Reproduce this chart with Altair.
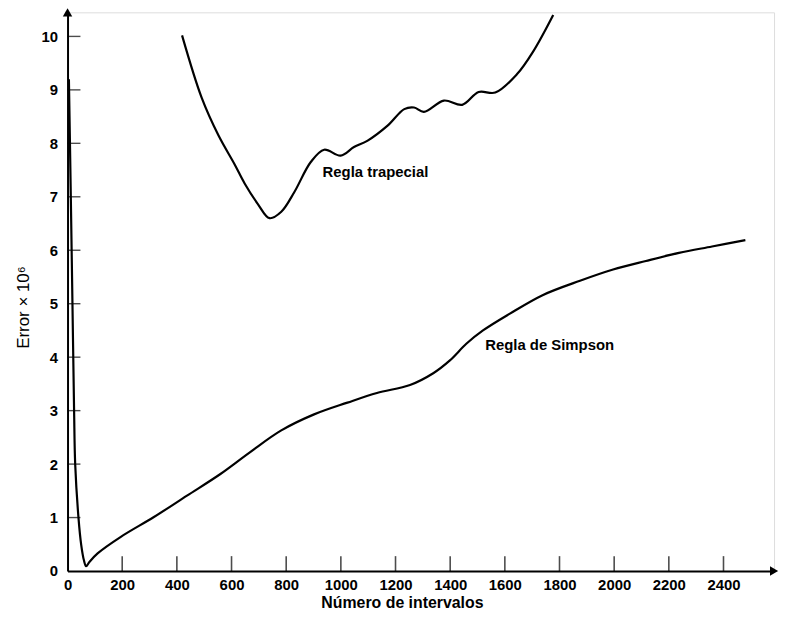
import altair as alt
import pandas as pd

# Trapezoidal rule curve (Número de intervalos, Error x 10^6)
trap_x = [419, 491, 552, 612, 648, 697, 739, 782, 830, 890, 939, 999, 1048, 1098,
          1171, 1232, 1268, 1304, 1377, 1444, 1504, 1565, 1644, 1704, 1777]
trap_y = [10.02, 8.85, 8.15, 7.6, 7.25, 6.86, 6.6, 6.72, 7.09, 7.65, 7.88, 7.77,
          7.93, 8.05, 8.33, 8.64, 8.67, 8.59, 8.8, 8.72, 8.96, 8.95, 9.29, 9.72, 10.4]

# Simpson rule curve
simp_x = [5, 12, 18, 24, 28, 40, 50, 60, 68, 80, 110, 195, 316, 437, 558, 667,
          782, 902, 1024, 1132, 1253, 1338, 1399, 1459, 1520, 1617, 1738, 1875,
          1996, 2116, 2237, 2358, 2480]
simp_y = [9.2, 7.0, 5.0, 3.0, 2.0, 1.0, 0.49, 0.2, 0.09, 0.17, 0.33, 0.64, 1.01,
          1.41, 1.81, 2.22, 2.63, 2.93, 3.15, 3.33, 3.48, 3.70, 3.94, 4.25, 4.50,
          4.81, 5.16, 5.43, 5.64, 5.80, 5.95, 6.07, 6.19]

x_ticks = [0, 200, 400, 600, 800, 1000, 1200, 1400, 1600, 1800, 2000, 2200, 2400]
y_ticks = [0, 1, 2, 3, 4, 5, 6, 7, 8, 9, 10]

labels = ["Regla trapecial", "Regla de Simpson"]
label_x = [933, 1528]
label_y = [7.46, 4.22]

x_max = 2585
y_max = 10.45

df = pd.concat([
    pd.DataFrame({"x": trap_x, "y": trap_y, "serie": "Regla trapecial"}),
    pd.DataFrame({"x": simp_x, "y": simp_y, "serie": "Regla de Simpson"}),
])

FONT = "Liberation Sans"
xs = alt.Scale(domain=[0, x_max], nice=False, zero=False)
ys = alt.Scale(domain=[0, y_max], nice=False)

lines = alt.Chart(df).mark_line(color="black", strokeWidth=2.2, interpolate="catmull-rom").encode(
    x=alt.X("x:Q", scale=xs, axis=alt.Axis(
        values=x_ticks, format="d", ticks=False, grid=False, domainColor="black", domainWidth=2,
        labelFont=FONT, labelFontSize=15, labelColor="black", labelPadding=7,
        labelFontWeight="bold", labelFlush=False,
        title="Número de intervalos", titleFont=FONT, titleFontSize=16,
        titleFontWeight="bold", titleColor="black", titleX=337, titleY=24,
        titleBaseline="top")),
    y=alt.Y("y:Q", scale=ys, axis=alt.Axis(
        values=y_ticks, format="d", ticks=False, grid=False, domainColor="black", domainWidth=2,
        labelFont=FONT, labelFontSize=15, labelColor="black", labelPadding=10,
        labelFontWeight="bold", labelFlush=False,
        title="Error × 10⁶", titleFont=FONT, titleFontSize=17,
        titleFontWeight="normal", titleColor="black", titleX=-44, titleY=297,
        titleBaseline="middle")),
    detail="serie:N",
)

xt = alt.Chart(pd.DataFrame({"x": x_ticks[1:], "y": [0] * (len(x_ticks) - 1)})).mark_tick(
    orient="vertical", size=15, thickness=1.6, color="black", yOffset=-7.5
).encode(x=alt.X("x:Q", scale=xs), y=alt.Y("y:Q", scale=ys))

yt = alt.Chart(pd.DataFrame({"x": [0] * (len(y_ticks) - 1), "y": y_ticks[1:]})).mark_tick(
    orient="horizontal", size=13, thickness=1.4, color="black", xOffset=6.5
).encode(x=alt.X("x:Q", scale=xs), y=alt.Y("y:Q", scale=ys))

arrows = alt.Chart(pd.DataFrame({
    "x": [0, x_max], "y": [y_max, 0], "shape": ["triangle-up", "triangle-right"]
})).mark_point(filled=True, size=90, color="black", opacity=1).encode(
    x=alt.X("x:Q", scale=xs), y=alt.Y("y:Q", scale=ys),
    shape=alt.Shape("shape:N", scale=None),
)

text = alt.Chart(pd.DataFrame({"x": label_x, "y": label_y, "t": labels})).mark_text(
    align="left", baseline="middle", font=FONT, fontSize=15, fontWeight="bold", color="black"
).encode(x=alt.X("x:Q", scale=xs), y=alt.Y("y:Q", scale=ys), text="t:N")

chart = alt.layer(lines, xt, yt, arrows, text).properties(
    width=712, height=563, autosize="none",
    padding={"left": 60, "top": 2, "right": 8, "bottom": 50},
).configure_view(stroke=None).configure(background="white")

chart.save("out.html", embed_options={"renderer": "svg", "actions": False})
